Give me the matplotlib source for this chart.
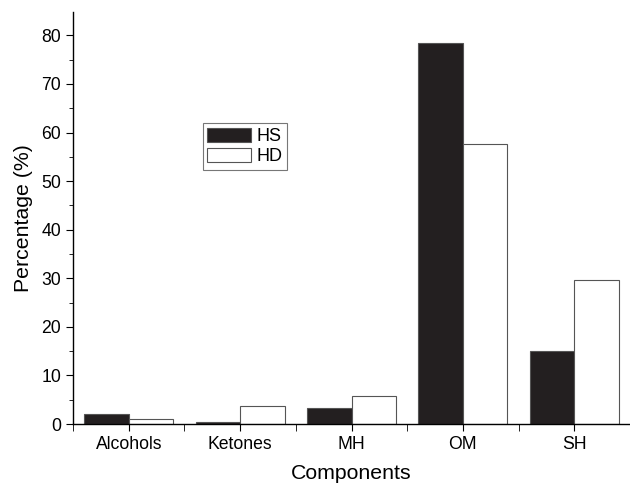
import numpy as np
import matplotlib
matplotlib.use("Agg")
import matplotlib.pyplot as plt
from matplotlib.ticker import MultipleLocator, FixedLocator

plt.rcParams["font.family"] = ["Liberation Sans", "DejaVu Sans"]

categories = ["Alcohols", "Ketones", "MH", "OM", "SH"]
hs = [2.0, 0.4, 3.3, 78.5, 15.0]
hd = [1.0, 3.7, 5.8, 57.7, 29.7]

fig = plt.figure(figsize=(6.3, 4.83), dpi=100)
ax = fig.add_axes([0.116, 0.122, 0.884, 0.853])

x = np.arange(len(categories))
w = 0.4
ax.bar(x - w / 2, hs, w, color="#231f20", edgecolor="#555555", linewidth=0.8, label="HS")
ax.bar(x + w / 2, hd, w, color="white", edgecolor="#555555", linewidth=0.8, label="HD")

ax.set_xlim(-0.5, 4.5)
ax.set_ylim(0, 84.8)
ax.spines["top"].set_visible(False)
ax.spines["right"].set_visible(False)
for s in ["left", "bottom"]:
    ax.spines[s].set_linewidth(1.0)

ax.set_xticks(x)
ax.set_xticklabels(categories)
ax.xaxis.set_minor_locator(FixedLocator(np.arange(-0.5, 5.0, 1.0)))
ax.yaxis.set_major_locator(MultipleLocator(10))
ax.yaxis.set_minor_locator(MultipleLocator(5))
ax.tick_params(which="both", direction="out", labelsize=12.7)
ax.tick_params(which="major", length=5)
ax.tick_params(which="minor", length=3)
ax.tick_params(axis="x", which="minor", length=5)

ax.set_xlabel("Components", fontsize=15.3, labelpad=8)
ax.set_ylabel("Percentage (%)", fontsize=15.3, labelpad=6)

leg = ax.legend(loc="upper left", bbox_to_anchor=(0.233, 0.73), fontsize=13,
                frameon=True, fancybox=False, edgecolor="#555555",
                handlelength=2.4, handleheight=0.85, handletextpad=0.3,
                borderpad=0.25, labelspacing=0.15, borderaxespad=0)
leg.get_frame().set_linewidth(0.8)

fig.savefig("out.png", dpi=100)
